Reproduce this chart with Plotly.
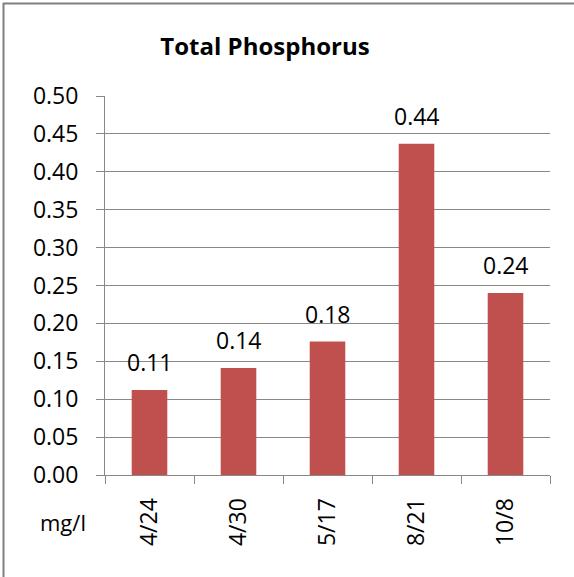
import plotly.graph_objects as go

dates = ['4/24', '4/30', '5/17', '8/21', '10/8']
phosphorus = [0.112, 0.141, 0.176, 0.437, 0.240]
labels = ['0.11', '0.14', '0.18', '0.44', '0.24']
yticks = [0.0, 0.05, 0.10, 0.15, 0.20, 0.25, 0.30, 0.35, 0.40, 0.45, 0.50]

font_family = 'Open Sans, Liberation Sans, sans-serif'
grid_col = '#888888'

fig = go.Figure()
fig.add_trace(go.Bar(x=dates, y=phosphorus, marker=dict(color='#C0504D', line_width=0),
                     hoverinfo='skip'))

# value labels sit a little above each bar, like Excel does
for d, v, lab in zip(dates, phosphorus, labels):
    fig.add_annotation(x=d, y=v, text=lab, showarrow=False, yanchor='bottom',
                       yshift=10, font=dict(size=23, color='black'))

# plot area in px: x 105..550, y 96..475
fig.update_layout(
    width=574, height=577,
    margin=dict(l=105, r=24, t=96, b=102),
    paper_bgcolor='white', plot_bgcolor='white',
    font=dict(family=font_family, size=23, color='black'),
    bargap=0.6, showlegend=False,
    title=dict(text='<b>Total Phosphorus</b>', x=265 / 574, xanchor='center',
               y=1 - 47 / 577, yanchor='middle', font=dict(size=24)),
)
fig.update_yaxes(range=[0, 0.5], tickvals=yticks, tickformat='.2f',
                 showgrid=True, gridcolor=grid_col, gridwidth=1,
                 showline=True, linecolor=grid_col, linewidth=1,
                 ticks='outside', ticklen=8, tickcolor=grid_col,
                 zeroline=False, ticklabelstandoff=13)
fig.update_xaxes(showline=True, linecolor=grid_col, linewidth=1,
                 ticks='outside', ticklen=8, tickcolor=grid_col,
                 tickson='boundaries', tickangle=-90, showgrid=False,
                 ticklabelstandoff=13)

fig.add_annotation(text='mg/l', xref='paper', yref='paper',
                   x=(63 - 105) / 445, y=(475 - 522) / 379,
                   xanchor='center', yanchor='middle',
                   showarrow=False, font=dict(size=22))

# chart border: only top and left edges show in the picture
fig.add_shape(type='line', xref='paper', yref='paper',
              x0=(3 - 105) / 445, x1=(580 - 105) / 445,
              y0=(475 - 3.5) / 379, y1=(475 - 3.5) / 379,
              line=dict(color='#7f7f7f', width=2))
fig.add_shape(type='line', xref='paper', yref='paper',
              x0=(3.5 - 105) / 445, x1=(3.5 - 105) / 445,
              y0=(475 - 3) / 379, y1=(475 - 590) / 379,
              line=dict(color='#7f7f7f', width=2))

fig.write_html('out.html', config={'displayModeBar': False},
               post_script="document.body.style.margin='0';")
